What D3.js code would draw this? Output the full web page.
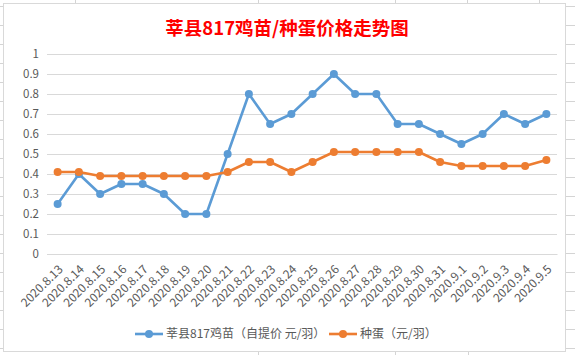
<!DOCTYPE html>
<html><head><meta charset="utf-8">
<script src="https://cdn.jsdelivr.net/npm/d3@7"></script>
<style>html,body{margin:0;padding:0;background:#fff;}</style>
</head><body>
<svg id="c" width="575" height="355"></svg>
<script>
const categories = ["2020.8.13","2020.8.14","2020.8.15","2020.8.16","2020.8.17","2020.8.18","2020.8.19","2020.8.20","2020.8.21","2020.8.22","2020.8.23","2020.8.24","2020.8.25","2020.8.26","2020.8.27","2020.8.28","2020.8.29","2020.8.30","2020.8.31","2020.9.1","2020.9.2","2020.9.3","2020.9.4","2020.9.5"];
const chickValues = [0.25,0.40,0.30,0.35,0.35,0.30,0.20,0.20,0.50,0.80,0.65,0.70,0.80,0.90,0.80,0.80,0.65,0.65,0.60,0.55,0.60,0.70,0.65,0.70];
const eggValues = [0.41,0.41,0.39,0.39,0.39,0.39,0.39,0.39,0.41,0.46,0.46,0.41,0.46,0.51,0.51,0.51,0.51,0.51,0.46,0.44,0.44,0.44,0.44,0.47];
const yTicks = [0,0.1,0.2,0.3,0.4,0.5,0.6,0.7,0.8,0.9,1];
const seriesNames = ["莘县817鸡苗（自提价 元/羽）","种蛋（元/羽）"];
const seriesColors = ["#5B9BD5","#ED7D31"];
const titleText = "莘县817鸡苗/种蛋价格走势图";

const svg = d3.select("#c");
const font = "'Noto Sans CJK SC','Noto Sans',sans-serif";

// spreadsheet cell lines outside the chart
const g0 = svg.append("g").attr("stroke","#d4d4d4").attr("stroke-width",1);
[75,258,395,467,539].forEach(x=>g0.append("line").attr("x1",x+0.5).attr("x2",x+0.5).attr("y1",0).attr("y2",3));
[258,395,468].forEach(x=>g0.append("line").attr("x1",x+0.5).attr("x2",x+0.5).attr("y1",352).attr("y2",355));
for(let y=6;y<355;y+=19){
  g0.append("line").attr("x1",0).attr("x2",3).attr("y1",y+0.5).attr("y2",y+0.5);
  g0.append("line").attr("x1",566).attr("x2",575).attr("y1",y+0.5).attr("y2",y+0.5);
}
svg.append("rect").attr("x",3.5).attr("y",3.5).attr("width",562).attr("height",348)
  .attr("fill","#fff").attr("stroke","#d9d9d9");

const m = {left:47,right:557,top:54,bottom:254};
const x = d3.scaleBand().domain(categories).range([m.left,m.right]);
const y = d3.scaleLinear().domain([0,1]).range([m.bottom,m.top]);

// gridlines
svg.append("g").selectAll("line").data(yTicks).join("line")
  .attr("x1",m.left).attr("x2",m.right)
  .attr("y1",d=>Math.round(y(d))+0.5).attr("y2",d=>Math.round(y(d))+0.5)
  .attr("stroke","#d9d9d9").attr("stroke-width",1);

// y axis
const ya = svg.append("g").attr("transform",`translate(${m.left-8},0)`)
  .call(d3.axisLeft(y).tickValues(yTicks).tickFormat(d=>String(+d.toFixed(1))).tickSize(0).tickPadding(0));
ya.select(".domain").remove();
ya.selectAll("text").attr("fill","#595959").style("font-family",font).style("font-size","11.5px");

// x axis
const xa = svg.append("g").attr("transform",`translate(0,${m.bottom})`)
  .call(d3.axisBottom(x).tickSize(0).tickPadding(0));
xa.select(".domain").attr("stroke","#d9d9d9");
xa.selectAll("text").attr("fill","#595959").style("font-family",font).style("font-size","12px")
  .attr("text-anchor","end").attr("dy",0).attr("y",0)
  .attr("transform","translate(6,16) rotate(-45)");

const cx = d=>x(d)+x.bandwidth()/2;
const series = [chickValues, eggValues];
series.forEach((vals,i)=>{
  const pts = categories.map((c,j)=>[cx(c), y(vals[j])]);
  svg.append("path").attr("d",d3.line()(pts)).attr("fill","none")
    .attr("stroke",seriesColors[i]).attr("stroke-width",2.6).attr("stroke-linejoin","round");
  svg.append("g").selectAll("circle").data(pts).join("circle")
    .attr("cx",d=>d[0]).attr("cy",d=>d[1]).attr("r",4).attr("fill",seriesColors[i]);
});

// title
svg.append("text").attr("x",287).attr("y",35).attr("text-anchor","middle")
  .attr("fill","#FF0000").style("font-family",font).style("font-size","18.5px").style("font-weight","bold")
  .text(titleText);

// legend
const lg = svg.append("g");
const legendItems = [{x:135},{x:329}];
seriesNames.forEach((n,i)=>{
  const lx = legendItems[i].x;
  lg.append("line").attr("x1",lx).attr("x2",lx+28).attr("y1",334).attr("y2",334)
    .attr("stroke",seriesColors[i]).attr("stroke-width",2.6);
  lg.append("circle").attr("cx",lx+14).attr("cy",334).attr("r",4).attr("fill",seriesColors[i]);
  lg.append("text").attr("x",lx+31).attr("y",338).attr("fill","#595959")
    .style("font-family",font).style("font-size","12px").text(n);
});
</script>
</body></html>
